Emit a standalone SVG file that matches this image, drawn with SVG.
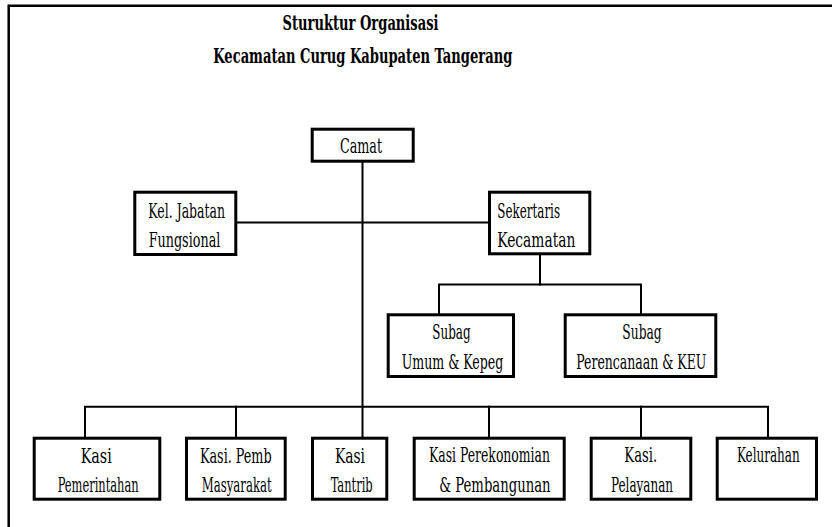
<svg xmlns="http://www.w3.org/2000/svg" width="837" height="527" viewBox="0 0 837 527">
<style>
  .box{fill:#fff;stroke:#000;stroke-width:3}
  .ln{fill:none;stroke:#000;stroke-width:2;stroke-linecap:square}
  .frame{fill:none;stroke:#000;stroke-width:2.5}
  .t{font-family:'DejaVu Serif Condensed','DejaVu Serif','Liberation Serif',serif;font-stretch:condensed;font-size:19.5px;fill:#000;text-anchor:middle}
  .title{font-weight:bold;font-size:19.5px}
</style>
<rect width="837" height="527" fill="#fff"/>
<g id="frame">
  <path class="frame" d="M8.7,527 V5.7 H832"/>
</g>
<g id="title">
  <text class="t title" x="360.5" y="30" textLength="156" lengthAdjust="spacingAndGlyphs">Sturuktur Organisasi</text>
  <text class="t title" x="362.8" y="63.3" textLength="299" lengthAdjust="spacingAndGlyphs">Kecamatan Curug Kabupaten Tangerang</text>
</g>
<g id="connectors">
  <path class="ln" d="M362.5,162 V437"/>
  <path class="ln" d="M237,222.5 H488"/>
  <path class="ln" d="M540,255 V284.5"/>
  <path class="ln" d="M439,314 V284.5 H641 V314"/>
  <path class="ln" d="M85,437 V406.7 H768 V437"/>
  <path class="ln" d="M236,406.7 V437"/>
  <path class="ln" d="M489,406.7 V437"/>
  <path class="ln" d="M641,406.7 V437"/>
</g>
<g id="camat">
  <rect class="box" x="312.2" y="129.2" width="101" height="32"/>
  <text class="t" x="361" y="153.3" textLength="42" lengthAdjust="spacingAndGlyphs">Camat</text>
</g>
<g id="kel-jabatan">
  <rect class="box" x="134.8" y="192.2" width="101" height="62.3"/>
  <text class="t" x="186.7" y="218.3" textLength="76.7" lengthAdjust="spacingAndGlyphs">Kel. Jabatan</text>
  <text class="t" x="184.5" y="246.7" textLength="71.7" lengthAdjust="spacingAndGlyphs">Fungsional</text>
</g>
<g id="sekertaris">
  <rect class="box" x="489.5" y="192.2" width="100.3" height="61.6"/>
  <text class="t" x="528.7" y="218.3" textLength="62.7" lengthAdjust="spacingAndGlyphs">Sekertaris</text>
  <text class="t" x="536.3" y="246.7" textLength="78" lengthAdjust="spacingAndGlyphs">Kecamatan</text>
</g>
<g id="subag-umum">
  <rect class="box" x="388.2" y="314.8" width="125.3" height="61.7"/>
  <text class="t" x="451.5" y="339.3" textLength="38.3" lengthAdjust="spacingAndGlyphs">Subag</text>
  <text class="t" x="452.5" y="369.3" textLength="101.7" lengthAdjust="spacingAndGlyphs">Umum &amp; Kepeg</text>
</g>
<g id="subag-perencanaan">
  <rect class="box" x="565.2" y="314.8" width="150.6" height="61.7"/>
  <text class="t" x="642" y="339.3" textLength="39.3" lengthAdjust="spacingAndGlyphs">Subag</text>
  <text class="t" x="641.3" y="369.3" textLength="130" lengthAdjust="spacingAndGlyphs">Perencanaan &amp; KEU</text>
</g>
<g id="kasi-pemerintahan">
  <rect class="box" x="34.2" y="438.2" width="125.6" height="61"/>
  <text class="t" x="96.2" y="462.7" textLength="31" lengthAdjust="spacingAndGlyphs">Kasi</text>
  <text class="t" x="98.2" y="491.7" textLength="81" lengthAdjust="spacingAndGlyphs">Pemerintahan</text>
</g>
<g id="kasi-pemb">
  <rect class="box" x="186.5" y="438.2" width="98.7" height="61"/>
  <text class="t" x="235.8" y="462.7" textLength="71.7" lengthAdjust="spacingAndGlyphs">Kasi. Pemb</text>
  <text class="t" x="236.7" y="491.7" textLength="70" lengthAdjust="spacingAndGlyphs">Masyarakat</text>
</g>
<g id="kasi-tantrib">
  <rect class="box" x="312.5" y="438.2" width="74.3" height="61"/>
  <text class="t" x="350" y="462.7" textLength="30" lengthAdjust="spacingAndGlyphs">Kasi</text>
  <text class="t" x="351.7" y="491.7" textLength="42" lengthAdjust="spacingAndGlyphs">Tantrib</text>
</g>
<g id="kasi-perekonomian">
  <rect class="box" x="414.2" y="438.2" width="150" height="61"/>
  <text class="t" x="489.5" y="461.7" textLength="121" lengthAdjust="spacingAndGlyphs">Kasi Perekonomian</text>
  <text class="t" x="495" y="491.7" textLength="111.3" lengthAdjust="spacingAndGlyphs">&amp; Pembangunan</text>
</g>
<g id="kasi-pelayanan">
  <rect class="box" x="591.2" y="438.2" width="99.6" height="61"/>
  <text class="t" x="640.7" y="461.7" textLength="32.7" lengthAdjust="spacingAndGlyphs">Kasi.</text>
  <text class="t" x="642" y="491.7" textLength="62" lengthAdjust="spacingAndGlyphs">Pelayanan</text>
</g>
<g id="kelurahan">
  <rect class="box" x="717.2" y="438.2" width="99.3" height="61"/>
  <text class="t" x="768.3" y="461.7" textLength="62.7" lengthAdjust="spacingAndGlyphs">Kelurahan</text>
</g>
</svg>
